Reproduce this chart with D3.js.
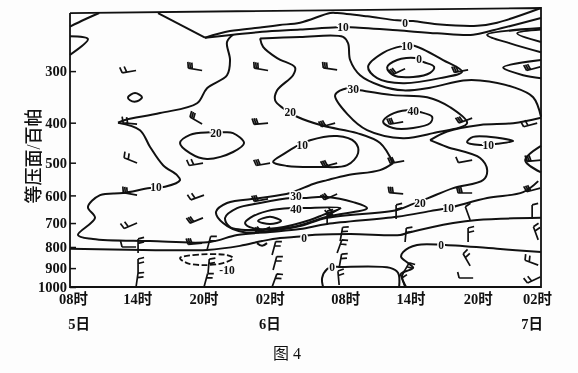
<!DOCTYPE html>
<html>
<head>
<meta charset="utf-8">
<script src="https://cdn.jsdelivr.net/npm/d3@7"></script>
<style>
  html, body { margin: 0; padding: 0; background: #fdfdfd; }
  svg { display: block; filter: blur(0.35px); }
  text { font-family: "Liberation Serif", "Noto Sans CJK SC", serif; fill: #111; }
  .axis-text { font-size: 14.5px; font-weight: bold; }
  .contour-label { font-size: 11.5px; font-weight: bold; paint-order: stroke; stroke: #fdfdfd; stroke-width: 3px; }
</style>
</head>
<body>
<div id="chart-area"></div>
<script>
// hours since 08时 on the 5th, pressure in hPa
const timeHours = [0, 6, 12, 18, 24, 30, 36, 42]
const timeLabels = ["08时", "14时", "20时", "02时", "08时", "14时", "20时", "02时"]
const levels = [300, 400, 500, 600, 700, 800, 900, 1000]
const days = [["5日", 0], ["6日", 18], ["7日", 42]]
const frameLine = [[0, 217], [42, 211], [42, 1000], [0, 1000], [0, 217]]

// open contours, [hour, hPa]
const openContours = [
  [[0, 234], [1.3, 225], [2.6, 217]],
  [[0, 247], [1.6, 251], [0, 274]],
  // 0 along the top
  [[7.85, 217], [12.04, 249]],
  [[12.04, 249], [14.27, 240], [17.13, 235], [18.7, 232], [20.52, 229], [23.2, 217], [23.82, 217], [26.5, 221], [29.17, 226], [30.6, 227], [32.74, 231], [36.31, 233], [38.09, 229], [42, 211]],
  // 10 along the top, then down to the nose at 400
  [[12.04, 249], [14.54, 245], [17.13, 241], [20.52, 238], [23.82, 235], [24.98, 235], [29.17, 239], [32.74, 243], [35.95, 245], [37.73, 239], [42, 223]],
  [[14.54, 245], [14, 255], [14.27, 282], [14, 307], [12.22, 330], [11.33, 359], [8.03, 379], [4.9, 394], [4.28, 400]],
  // 10 from the nose round the low levels to the right edge
  [[4.28, 400], [6.24, 417], [7.14, 458], [8.3, 507], [9.54, 536], [9.81, 551], [8.47, 572], [7.14, 576], [4.73, 592], [2.68, 599], [1.6, 640], [2.23, 680], [0.71, 748], [2.05, 765], [7.14, 774], [12.49, 778], [14.9, 748], [17.84, 736], [20.52, 724], [22.93, 704], [29.17, 676], [32.11, 655], [33.72, 644], [37.2, 609], [40.41, 589], [41.75, 554]],
  // 20, the long one
  [[42, 387], [41.3, 347], [39.52, 328], [36.57, 316], [35.06, 316], [32.11, 329], [29.7, 334], [27.65, 325], [25.87, 307], [24.98, 282], [24.8, 257], [24.35, 248], [20.52, 248], [16.95, 250]],
  [[16.95, 250], [17.22, 262], [18.47, 279], [20.07, 294], [19.89, 307], [18.47, 334], [18.29, 353], [19, 369], [20.25, 387], [22.57, 407], [25.6, 424], [27.65, 448], [28.81, 501]],
  [[28.81, 501], [27.65, 521], [24.71, 536], [22.93, 551], [21.68, 563], [19.63, 592], [16.95, 609], [14, 626], [13.02, 658], [13.65, 700], [15.43, 736], [18.47, 728], [20.52, 712], [22.93, 680], [29.17, 651], [30.6, 629], [31.94, 609], [34.17, 576], [36.84, 551], [37.2, 521], [36.57, 487], [33.63, 458], [32.11, 441]],
  [[32.11, 441], [33.63, 420], [36.57, 405], [39.52, 401], [42, 389]],
  // wedges on the right edge
  [[42, 236], [37.2, 245], [39.25, 257], [42, 270]],
  [[42, 238], [39.88, 243], [42, 255]],
  [[42, 282], [38.63, 294], [40.41, 307], [42, 312]],
  [[42, 455], [40.59, 493], [42, 528]],
  // 0 across the low levels
  [[0, 808], [6.51, 813], [12.22, 813], [15.16, 795], [17.13, 774], [18.73, 761], [20.52, 755], [21.59, 748], [24.98, 744], [29.44, 748], [30.06, 740], [34.17, 700], [36.31, 688], [42, 680]],
  [[22.57, 1000], [22.48, 951], [22.93, 904], [23.37, 894], [24.09, 894], [28.55, 899], [29.26, 925], [29.35, 1000]],
  [[42, 823], [38.36, 809], [33.45, 791], [30.95, 791], [29.7, 823], [29.53, 846], [30.15, 875], [30.6, 899], [29.7, 925], [29.62, 951], [29.97, 1000]],
  [[16.68, 783], [17.13, 795], [17.57, 783]]
]

// closed contours
const closedContours = [
  [[19.71, 609], [16.95, 626], [14.9, 644], [13.83, 680], [14.27, 716], [16.95, 728], [19.89, 716], [22.93, 676], [26.49, 644], [25.25, 623], [22.93, 605], [20.79, 609]],
  [[19.8, 644], [17.57, 655], [16.06, 680], [15.61, 700], [16.32, 720], [18.47, 720], [21.41, 688], [22.57, 669], [24.09, 644], [20.79, 644]],
  [[16.77, 692], [17.84, 676], [18.82, 692], [17.84, 704]],
  [[5.17, 347], [5.8, 339], [6.42, 347], [5.98, 355], [5.35, 353]],
  [[12.49, 422], [10.7, 428], [9.81, 448], [10.7, 474], [12.22, 490], [14.54, 471], [15.52, 448], [14.54, 424], [13.65, 422]],
  [[21.41, 441], [23.82, 431], [25.42, 446], [25.69, 474], [24.71, 507], [22.3, 512], [19.36, 509], [18.11, 498], [19.18, 474], [20.25, 455]],
  [[29.62, 261], [27.92, 271], [26.58, 293], [27.39, 312], [29.7, 321], [33, 312], [34.97, 301], [33.27, 282], [30.6, 260]],
  [[30.78, 279], [29.17, 282], [28.28, 294], [28.81, 307], [30.6, 310], [32.11, 303], [32.47, 293], [31.49, 285]],
  [[24.71, 330], [23.64, 343], [24.8, 383], [26.49, 417], [29.7, 436], [32.38, 424], [35.41, 401], [33.9, 367], [31.85, 347], [28.81, 343], [25.87, 334]],
  [[30.06, 373], [28.55, 383], [27.92, 398], [28.81, 412], [30.6, 412], [32.11, 401], [32.29, 387], [31.22, 377]],
  [[36.57, 453], [35.41, 446], [35.95, 433], [39.52, 443], [38.09, 450]]
]

const dashedContour = [[9.81, 851], [10.97, 837], [14, 837], [14.54, 851], [13.65, 875], [11.86, 885], [10.44, 875]]

const contourLabels = [
  ["0", 29.88, 229], ["10", 24.35, 235], ["10", 30.06, 261], ["0", 31.13, 280],
  ["30", 25.25, 332], ["20", 19.63, 377], ["40", 30.6, 375], ["20", 13.02, 424],
  ["10", 20.7, 453], ["10", 37.29, 453], ["10", 7.67, 572], ["20", 31.22, 626],
  ["10", 33.72, 644], ["30", 20.16, 601], ["40", 20.16, 648], ["0", 20.87, 761],
  ["0", 33.1, 791], ["0", 23.37, 895], ["-10", 14, 910]
]

// wind barbs: hour, hPa, direction of the staff, number of feathers
const winds = [
  [5.89, 299, -100, 2], [5.98, 403, -85, 2], [5.98, 501, -68, 2], [5.98, 599, -80, 3], [5.98, 700, -113, 2], [5.89, 800, -90, 1], [6.07, 827, 0, 2], [6.07, 925, 0, 2], [5.89, 1000, 8, 2],
  [11.78, 299, -80, 3], [11.78, 403, -60, 3], [11.86, 501, -100, 2], [11.95, 599, -110, 2], [11.86, 680, -112, 3], [11.78, 783, -95, 3], [12.22, 813, 15, 2], [12.31, 925, 5, 2], [11.95, 1000, 15, 2],
  [17.66, 299, -80, 3], [17.66, 401, -95, 3], [17.84, 501, -100, 3], [17.66, 612, -100, 3], [17.84, 716, -115, 3], [18.02, 837, 15, 2], [18.11, 910, 15, 2], [18.02, 1000, 20, 2],
  [23.82, 298, -82, 3], [23.64, 401, -105, 3], [23.82, 501, -105, 3], [23.82, 595, -115, 3], [24.18, 644, -118, 2], [22.93, 708, 0, 2], [24.09, 774, 10, 2], [23.82, 827, 20, 2], [24, 899, 10, 2], [24, 989, -5, 2],
  [29.88, 296, -115, 3], [29.71, 398, -100, 3], [29.8, 495, -100, 3], [29.71, 595, -85, 3], [29.08, 684, 0, 2], [29.88, 778, 5, 2], [29.62, 935, 30, 2], [29.88, 1000, -20, 2],
  [35.5, 298, -100, 3], [35.86, 390, -110, 3], [35.86, 493, -100, 1], [35.86, 592, -90, 3], [35.68, 688, -20, 1], [35.5, 778, 0, 2], [35.68, 889, -30, 2], [35.95, 951, -90, 1],
  [41.93, 293, -105, 3], [41.66, 401, -105, 2], [42, 493, -95, 3], [41.93, 576, -105, 3], [41.21, 684, 0, 1], [41.75, 769, -20, 2], [41.75, 885, -70, 2], [41.93, 946, -115, 2]
]

// the scan's time labels sit a little off the even spacing
const labelNudge = [3, 0, -1, -2, 6, 4, 4, -4]

function drawChart() {
    const dimensions = {
        width: 578,
        height: 373,
        left: 70,
        right: 541,
        top: 8,
        bottom: 287
    }

    const wrapper = d3.select("#chart-area").append("svg")
        .attr("width", dimensions.width)
        .attr("height", dimensions.height)

    // Create scales, the pressure axis is logarithmic
    const xScale = d3.scaleLinear()
        .domain([0, 42])
        .range([dimensions.left, dimensions.right])

    const yScale = d3.scaleLog()
        .domain([1000, 211])
        .range([dimensions.bottom, dimensions.top])

    // Draw axes
    const yAxisGenerator = d3.axisLeft(yScale)
        .tickValues(levels)
        .tickFormat(d => d)
        .tickSize(-6)
        .tickPadding(4)

    const yAxis = wrapper.append("g")
        .attr("transform", `translate(${dimensions.left}, 0)`)
        .call(yAxisGenerator)
    yAxis.select(".domain").remove()
    yAxis.selectAll("line").attr("stroke", "#111").attr("stroke-width", 1.5)
    yAxis.selectAll("text")
        .attr("class", "axis-text")
        .attr("fill", null)
        .attr("x", -3)
        .style("font-family", null)

    const xAxisGenerator = d3.axisBottom(xScale)
        .tickValues(timeHours)
        .tickFormat((d, i) => timeLabels[i])
        .tickSize(0)
        .tickPadding(7)

    const xAxis = wrapper.append("g")
        .attr("transform", `translate(0, ${dimensions.bottom})`)
        .call(xAxisGenerator)
    xAxis.select(".domain").remove()
    xAxis.selectAll("text")
        .attr("class", "axis-text")
        .attr("fill", null)
        .attr("dx", (d, i) => labelNudge[i])

    wrapper.selectAll(".day")
        .data(days)
        .enter().append("text")
        .attr("class", "axis-text day")
        .attr("x", d => xScale(d[1]))
        .attr("dx", d => d[1] === 0 ? 9 : (d[1] === 42 ? -9 : -2))
        .attr("y", 329)
        .attr("text-anchor", "middle")
        .text(d => d[0])

    wrapper.append("text")
        .attr("transform", "translate(40, 156) rotate(-90)")
        .attr("text-anchor", "middle")
        .style("font-size", "18px")
        .style("font-weight", "500")
        .text("等压面/百帕")

    wrapper.append("text")
        .attr("x", 287)
        .attr("y", 359)
        .attr("text-anchor", "middle")
        .style("font-size", "16px")
        .text("图 4")

    // Line generators
    const openLine = d3.line()
        .x(d => xScale(d[0]))
        .y(d => yScale(d[1]))
        .curve(d3.curveCatmullRom.alpha(0.5))

    const closedLine = d3.line()
        .x(d => xScale(d[0]))
        .y(d => yScale(d[1]))
        .curve(d3.curveCatmullRomClosed.alpha(0.5))

    const frame = d3.line()
        .x(d => xScale(d[0]))
        .y(d => yScale(d[1]))

    const contours = wrapper.append("g")
        .attr("fill", "none")
        .attr("stroke", "#111")
        .attr("stroke-width", 2)
        .attr("stroke-linejoin", "round")

    contours.selectAll(".open")
        .data(openContours)
        .enter().append("path")
        .attr("d", openLine)

    contours.selectAll(".closed")
        .data(closedContours)
        .enter().append("path")
        .attr("d", closedLine)

    contours.append("path")
        .attr("d", closedLine(dashedContour))
        .attr("stroke-width", 1.8)
        .attr("stroke-dasharray", "6 2.5")

    // Draw wind barbs
    const staffLength = 14
    const featherLength = 6
    const barbPath = count => {
        const gap = count === 3 ? 2 : 4.5
        let path = `M0,0L0,${-staffLength}`
        for (let i = 0; i < count; i++) {
            const y0 = -staffLength + i * gap
            path += `M0,${y0}L${featherLength},${y0 - 1.5}`
        }
        return path
    }

    wrapper.append("g").selectAll("path")
        .data(winds)
        .enter().append("path")
        .attr("transform", d => `translate(${xScale(d[0])}, ${yScale(d[1])}) rotate(${d[2]})`)
        .attr("d", d => barbPath(d[3]))
        .attr("fill", "none")
        .attr("stroke", "#111")
        .attr("stroke-width", 1.7)

    // Labels on the contours
    wrapper.selectAll(".contour-label")
        .data(contourLabels)
        .enter().append("text")
        .attr("class", "contour-label")
        .attr("x", d => xScale(d[1]))
        .attr("y", d => yScale(d[2]))
        .attr("dy", "0.35em")
        .attr("text-anchor", "middle")
        .text(d => d[0])

    // Frame goes last, the scan is slightly skewed along the top
    wrapper.append("path")
        .attr("d", frame(frameLine))
        .attr("fill", "none")
        .attr("stroke", "#111")
        .attr("stroke-width", 1.8)
}

drawChart()
</script>
</body>
</html>
